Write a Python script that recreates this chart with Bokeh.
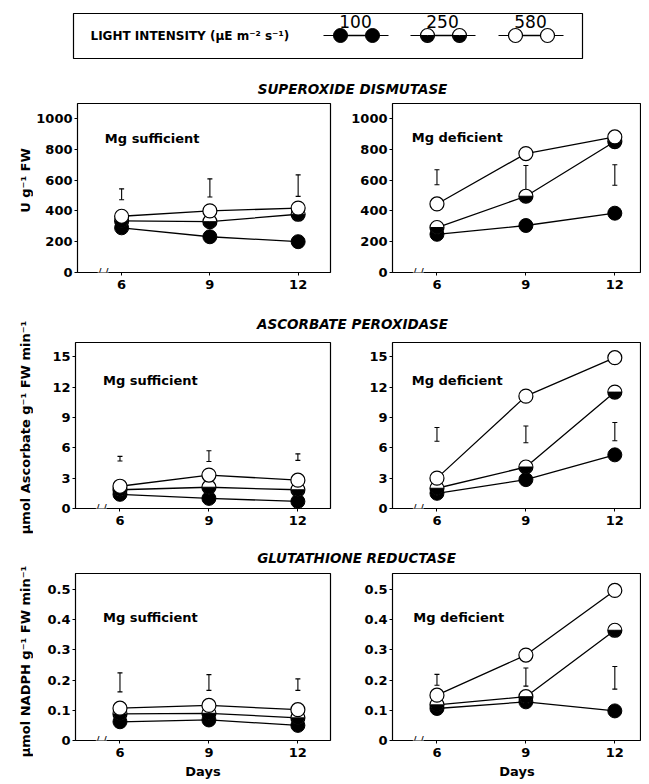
import math
from bokeh.plotting import figure
from bokeh.layouts import column, row
from bokeh.models import Label, FixedTicker, Range1d
from bokeh.embed import file_html
from bokeh.resources import INLINE
from bokeh.core.properties import value

# ---------------- data ----------------
days = [6, 9, 12]
intensities = ["100", "250", "580"]

# Superoxide dismutase (U g-1 FW)
sod_suf_100 = [290, 232, 200]
sod_suf_250 = [335, 330, 378]
sod_suf_580 = [365, 400, 418]
sod_suf_lsd_lo = [472, 490, 494]
sod_suf_lsd_hi = [543, 608, 634]
sod_def_100 = [248, 305, 385]
sod_def_250 = [292, 495, 850]
sod_def_580 = [445, 772, 880]
sod_def_lsd_lo = [570, 506, 566]
sod_def_lsd_hi = [667, 695, 699]

# Ascorbate peroxidase (umol ascorbate g-1 FW min-1)
apx_suf_100 = [1.4, 1.0, 0.7]
apx_suf_250 = [1.85, 2.1, 1.85]
apx_suf_580 = [2.2, 3.3, 2.8]
apx_suf_lsd_lo = [4.7, 4.65, 4.75]
apx_suf_lsd_hi = [5.15, 5.7, 5.4]
apx_def_100 = [1.5, 2.85, 5.3]
apx_def_250 = [2.0, 4.1, 11.5]
apx_def_580 = [3.0, 11.1, 14.9]
apx_def_lsd_lo = [6.65, 6.5, 6.7]
apx_def_lsd_hi = [8.0, 8.15, 8.5]

# Glutathione reductase (umol NADPH g-1 FW min-1)
gr_suf_100 = [0.062, 0.068, 0.05]
gr_suf_250 = [0.088, 0.09, 0.075]
gr_suf_580 = [0.107, 0.116, 0.102]
gr_suf_lsd_lo = [0.161, 0.166, 0.166]
gr_suf_lsd_hi = [0.224, 0.218, 0.204]
gr_def_100 = [0.106, 0.128, 0.098]
gr_def_250 = [0.118, 0.145, 0.365]
gr_def_580 = [0.15, 0.283, 0.497]
gr_def_lsd_lo = [0.183, 0.18, 0.17]
gr_def_lsd_hi = [0.219, 0.24, 0.245]

sod_ticks = [0, 200, 400, 600, 800, 1000]
apx_ticks = [0, 3, 6, 9, 12, 15]
gr_ticks = [0, 0.1, 0.2, 0.3, 0.4, 0.5]

titles = ["SUPEROXIDE DISMUTASE", "ASCORBATE PEROXIDASE", "GLUTATHIONE REDUCTASE"]
ylabels = ["U g\u207b\u00b9 FW",
           "\u00b5mol Ascorbate g\u207b\u00b9 FW min\u207b\u00b9",
           "\u00b5mol NADPH g\u207b\u00b9 FW min\u207b\u00b9"]
legend_title = "LIGHT INTENSITY (\u00b5E m\u207b\u00b2 s\u207b\u00b9)"

FONT = "DejaVu Sans"
MS = 14  # marker size


def draw_series(p, x, y, kind, size=MS):
    p.line(x, y, line_color="black", line_width=1.3)
    if kind == "100":
        p.scatter(x, y, size=size, marker="circle", fill_color="black", line_color="black")
    elif kind == "250":
        p.scatter(x, y, size=size, marker="circle", fill_color="white", line_color="black", line_width=1.2)
        p.wedge(x, y, radius=size / 2.0 - 0.5, radius_units="screen", start_angle=math.pi,
                end_angle=2 * math.pi, fill_color="black", line_color="black")
    else:
        p.scatter(x, y, size=size, marker="circle", fill_color="white", line_color="black", line_width=1.2)


def panel(width, height, left, right, top, bottom, x_end, y_end, yticks,
          s100, s250, s580, lo, hi, note, note_x, note_y, xlabel=None):
    p = figure(width=width, height=height, x_range=Range1d(4.5, x_end), y_range=Range1d(0, y_end),
               output_backend="svg", toolbar_location=None,
               min_border_left=left, min_border_right=right,
               min_border_top=top, min_border_bottom=bottom)
    p.grid.visible = False
    p.outline_line_color = "black"
    p.outline_line_width = 1.2
    p.xaxis.ticker = FixedTicker(ticks=days)
    p.yaxis.ticker = FixedTicker(ticks=yticks)
    p.yaxis.major_label_overrides = {0: "0"}
    for ax in (p.xaxis[0], p.yaxis[0]):
        ax.axis_line_color = None
        ax.major_tick_in = 0
        ax.major_tick_out = 3
        ax.major_tick_line_color = "black"
        ax.minor_tick_line_color = None
        ax.major_label_text_font = FONT
        ax.major_label_text_font_style = "bold"
        ax.major_label_text_font_size = "13px"
        ax.major_label_text_color = "black"
        ax.major_label_standoff = 2
        ax.axis_label_text_font = FONT
        ax.axis_label_text_font_style = "bold"
        ax.axis_label_text_font_size = "13px"
        ax.axis_label_text_color = "black"
        ax.axis_label_standoff = 4
    p.xaxis.major_label_standoff = 4
    if xlabel:
        p.xaxis.axis_label = xlabel
    # LSD bars
    p.segment(x0=days, y0=lo, x1=days, y1=hi, line_color="black", line_width=1.1)
    p.scatter(days, lo, marker="dash", size=5, line_color="black", line_width=1.1)
    p.scatter(days, hi, marker="dash", size=5, line_color="black", line_width=1.1)
    draw_series(p, days, s100, "100")
    draw_series(p, days, s250, "250")
    draw_series(p, days, s580, "580")
    p.add_layout(Label(x=note_x, y=note_y, text=note, text_baseline="middle",
                       text_font=FONT, text_font_style="bold", text_font_size="13px",
                       text_color="black"))
    # axis break
    p.add_layout(Label(x=5.37, y=0, text="/ /", text_align="center", text_baseline="middle",
                       text_font=FONT, text_font_size="11px", text_color="black",
                       background_fill_color="white"))
    return p


def title_fig(width, height, text, tx, ty):
    p = figure(width=width, height=height, x_range=Range1d(0, width), y_range=Range1d(0, height),
               output_backend="svg", toolbar_location=None, min_border=0)
    p.axis.visible = False
    p.grid.visible = False
    p.outline_line_color = None
    p.text(x=[tx], y=[ty], text=[text], text_align="center", text_baseline="middle",
           text_font=value(FONT), text_font_style="bold italic", text_font_size="13.5px",
           text_color="black")
    return p


# ---------------- legend ----------------
leg = figure(width=641, height=76, x_range=Range1d(-8, 633), y_range=Range1d(0, 76),
             output_backend="svg", toolbar_location=None, min_border=0)
leg.axis.visible = False
leg.grid.visible = False
leg.outline_line_color = None
leg.quad(left=[65], right=[574], bottom=[18], top=[63], fill_color=None, line_color="black", line_width=1.2)
leg.text(x=[82], y=[41], text=[legend_title], text_baseline="middle", text_font=value(FONT),
         text_font_style="bold", text_font_size="12px", text_color="black")
centers = [347, 434, 522]
for c, lab in zip(centers, intensities):
    leg.text(x=[c], y=[55], text=[lab], text_align="center", text_baseline="middle",
             text_font=value(FONT), text_font_size="17px", text_color="black")
    leg.line([c - 32, c + 33], [41, 41], line_color="black", line_width=1.2)
    draw_series(leg, [c - 15, c + 17], [41, 41], lab, size=14)

# ---------------- y-axis labels column ----------------
YLW, YLH = 33, 708
ylab = figure(width=YLW, height=YLH, x_range=Range1d(-8, 25), y_range=Range1d(0, YLH),
              output_backend="svg", toolbar_location=None, min_border=0)
ylab.axis.visible = False
ylab.grid.visible = False
ylab.outline_line_color = None
ylab.text(x=[17, 17, 17], y=[604, 357, 123], text=ylabels, angle=math.pi / 2,
          text_align="center", text_baseline="middle", text_font=value(FONT),
          text_font_style="bold", text_font_size="13px", text_color="black")

# ---------------- panels ----------------
LW = 312
RW = 296
p1 = panel(LW, 206, 42, 15, 7, 30, 13.1, 1097, sod_ticks, sod_suf_100, sod_suf_250, sod_suf_580,
           sod_suf_lsd_lo, sod_suf_lsd_hi, "Mg sufficient", 5.43, 870)
p2 = panel(RW, 206, 47, 0, 7, 30, 12.9, 1097, sod_ticks, sod_def_100, sod_def_250, sod_def_580,
           sod_def_lsd_lo, sod_def_lsd_hi, "Mg deficient", 5.15, 877)
p3 = panel(LW, 202, 42, 15, 8, 28, 13.1, 16.4, apx_ticks, apx_suf_100, apx_suf_250, apx_suf_580,
           apx_suf_lsd_lo, apx_suf_lsd_hi, "Mg sufficient", 5.43, 12.6)
p4 = panel(RW, 202, 47, 0, 8, 28, 12.9, 16.4, apx_ticks, apx_def_100, apx_def_250, apx_def_580,
           apx_def_lsd_lo, apx_def_lsd_hi, "Mg deficient", 5.15, 12.6)
p5 = panel(LW, 218, 42, 15, 7, 44, 13.1, 0.553, gr_ticks, gr_suf_100, gr_suf_250, gr_suf_580,
           gr_suf_lsd_lo, gr_suf_lsd_hi, "Mg sufficient", 5.43, 0.407, xlabel="Days")
p6 = panel(RW, 218, 47, 0, 7, 44, 12.9, 0.553, gr_ticks, gr_def_100, gr_def_250, gr_def_580,
           gr_def_lsd_lo, gr_def_lsd_hi, "Mg deficient", 5.2, 0.407, xlabel="Days")

TW = LW + RW
t1 = title_fig(TW, 20, titles[0], 319, 8)
t2 = title_fig(TW, 32, titles[1], 319, 11)
t3 = title_fig(TW, 30, titles[2], 323, 9)

body = column(t1, row(p1, p2), t2, row(p3, p4), t3, row(p5, p6))
layout = column(leg, row(ylab, body))

open("out.html", "w").write(file_html(layout, INLINE))
